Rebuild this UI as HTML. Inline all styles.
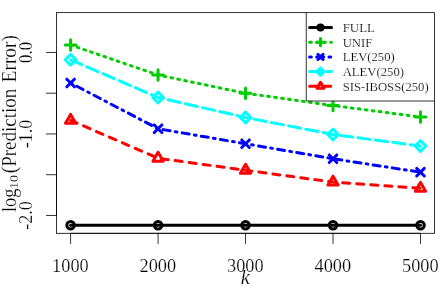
<!DOCTYPE html><html><head><meta charset="utf-8"><style>html,body{margin:0;padding:0;background:#fff}body{font-family:"Liberation Serif",serif}</style></head><body><svg width="443" height="288" viewBox="0 0 443 288" style="will-change:transform;display:block;font-family:'Liberation Serif',serif"><style>text{stroke:#fff;stroke-width:0.2px;paint-order:fill stroke}</style><rect width="443" height="288" fill="#fff"/><path d="M70.60 225.20L158.07 225.20L245.55 225.20L333.02 225.20L420.50 225.20" stroke="#000000" stroke-width="3.0" fill="none" stroke-linecap="round" stroke-linejoin="round"/><circle cx="70.6" cy="225.2" r="3.8" stroke="#000000" stroke-width="3.0" fill="none" stroke-linecap="round" stroke-linejoin="round"/><circle cx="158.07" cy="225.2" r="3.8" stroke="#000000" stroke-width="3.0" fill="none" stroke-linecap="round" stroke-linejoin="round"/><circle cx="245.55" cy="225.2" r="3.8" stroke="#000000" stroke-width="3.0" fill="none" stroke-linecap="round" stroke-linejoin="round"/><circle cx="333.02" cy="225.2" r="3.8" stroke="#000000" stroke-width="3.0" fill="none" stroke-linecap="round" stroke-linejoin="round"/><circle cx="420.5" cy="225.2" r="3.8" stroke="#000000" stroke-width="3.0" fill="none" stroke-linecap="round" stroke-linejoin="round"/><path d="M70.60 45.00L158.07 75.00L245.55 93.25L333.02 105.50L420.50 117.00" stroke="#00CD00" stroke-width="3.0" fill="none" stroke-linecap="round" stroke-linejoin="round" stroke-dasharray="1.76 5.28"/><path d="M65.23 45H75.97M70.6 39.63V50.37" stroke="#00CD00" stroke-width="3.0" fill="none" stroke-linecap="round" stroke-linejoin="round"/><path d="M152.70 75H163.44M158.07 69.63V80.37" stroke="#00CD00" stroke-width="3.0" fill="none" stroke-linecap="round" stroke-linejoin="round"/><path d="M240.18 93.25H250.92M245.55 87.88V98.62" stroke="#00CD00" stroke-width="3.0" fill="none" stroke-linecap="round" stroke-linejoin="round"/><path d="M327.65 105.5H338.39M333.02 100.13V110.87" stroke="#00CD00" stroke-width="3.0" fill="none" stroke-linecap="round" stroke-linejoin="round"/><path d="M415.13 117H425.87M420.5 111.63V122.37" stroke="#00CD00" stroke-width="3.0" fill="none" stroke-linecap="round" stroke-linejoin="round"/><path d="M70.60 83.00L158.07 128.75L245.55 143.75L333.02 158.75L420.50 172.20" stroke="#0000FF" stroke-width="3.0" fill="none" stroke-linecap="round" stroke-linejoin="round" stroke-dasharray="1.76 5.28 7.04 5.28"/><path d="M66.80 79.20L74.40 86.80M66.80 86.80L74.40 79.20" stroke="#0000FF" stroke-width="3.0" fill="none" stroke-linecap="round" stroke-linejoin="round"/><path d="M154.27 124.95L161.87 132.55M154.27 132.55L161.87 124.95" stroke="#0000FF" stroke-width="3.0" fill="none" stroke-linecap="round" stroke-linejoin="round"/><path d="M241.75 139.95L249.35 147.55M241.75 147.55L249.35 139.95" stroke="#0000FF" stroke-width="3.0" fill="none" stroke-linecap="round" stroke-linejoin="round"/><path d="M329.22 154.95L336.82 162.55M329.22 162.55L336.82 154.95" stroke="#0000FF" stroke-width="3.0" fill="none" stroke-linecap="round" stroke-linejoin="round"/><path d="M416.70 168.40L424.30 176.00M416.70 176.00L424.30 168.40" stroke="#0000FF" stroke-width="3.0" fill="none" stroke-linecap="round" stroke-linejoin="round"/><path d="M70.60 59.80L158.07 97.50L245.55 117.50L333.02 134.50L420.50 146.00" stroke="#00FFFF" stroke-width="3.0" fill="none" stroke-linecap="round" stroke-linejoin="round" stroke-dasharray="12.32 5.28"/><path d="M65.23 59.8L70.6 54.43L75.97 59.8L70.6 65.17Z" stroke="#00FFFF" stroke-width="3.0" fill="none" stroke-linecap="round" stroke-linejoin="round"/><path d="M152.70 97.5L158.07 92.13L163.44 97.5L158.07 102.87Z" stroke="#00FFFF" stroke-width="3.0" fill="none" stroke-linecap="round" stroke-linejoin="round"/><path d="M240.18 117.5L245.55 112.13L250.92 117.5L245.55 122.87Z" stroke="#00FFFF" stroke-width="3.0" fill="none" stroke-linecap="round" stroke-linejoin="round"/><path d="M327.65 134.5L333.02 129.13L338.39 134.5L333.02 139.87Z" stroke="#00FFFF" stroke-width="3.0" fill="none" stroke-linecap="round" stroke-linejoin="round"/><path d="M415.13 146L420.5 140.63L425.87 146L420.5 151.37Z" stroke="#00FFFF" stroke-width="3.0" fill="none" stroke-linecap="round" stroke-linejoin="round"/><path d="M70.60 120.30L158.07 158.25L245.55 170.25L333.02 182.10L420.50 188.35" stroke="#FF0000" stroke-width="3.0" fill="none" stroke-linecap="round" stroke-linejoin="round" stroke-dasharray="7.04 7.04"/><path d="M70.6 114.39L75.72 123.25L65.48 123.25Z" stroke="#FF0000" stroke-width="3.0" fill="none" stroke-linecap="round" stroke-linejoin="round"/><path d="M158.07 152.34L163.19 161.20L152.95 161.20Z" stroke="#FF0000" stroke-width="3.0" fill="none" stroke-linecap="round" stroke-linejoin="round"/><path d="M245.55 164.34L250.67 173.20L240.43 173.20Z" stroke="#FF0000" stroke-width="3.0" fill="none" stroke-linecap="round" stroke-linejoin="round"/><path d="M333.02 176.19L338.14 185.05L327.90 185.05Z" stroke="#FF0000" stroke-width="3.0" fill="none" stroke-linecap="round" stroke-linejoin="round"/><path d="M420.5 182.44L425.62 191.30L415.38 191.30Z" stroke="#FF0000" stroke-width="3.0" fill="none" stroke-linecap="round" stroke-linejoin="round"/><rect x="306.25" y="12.65" width="128.25" height="88.35" fill="#fff"/><path d="M306.25 12.65V101.0H434.5" stroke="#000" stroke-width="0.8" fill="none"/><rect x="56.5" y="12.65" width="378.0" height="220.65" stroke="#000" stroke-width="0.8" fill="none"/><path d="M70.6 233.3V243.9" stroke="#000" stroke-width="0.8" fill="none"/><path d="M158.07 233.3V243.9" stroke="#000" stroke-width="0.8" fill="none"/><path d="M245.55 233.3V243.9" stroke="#000" stroke-width="0.8" fill="none"/><path d="M333.02 233.3V243.9" stroke="#000" stroke-width="0.8" fill="none"/><path d="M420.5 233.3V243.9" stroke="#000" stroke-width="0.8" fill="none"/><path d="M56.5 52.46H46.0" stroke="#000" stroke-width="0.8" fill="none"/><path d="M56.5 93.21H46.0" stroke="#000" stroke-width="0.8" fill="none"/><path d="M56.5 133.96H46.0" stroke="#000" stroke-width="0.8" fill="none"/><path d="M56.5 174.71H46.0" stroke="#000" stroke-width="0.8" fill="none"/><path d="M56.5 215.46H46.0" stroke="#000" stroke-width="0.8" fill="none"/><path d="M70.6 233.3H420.5M56.5 52.46V215.46" stroke="#000" stroke-width="0.8" fill="none"/><text x="70.39999999999999" y="271.8" font-size="19.5" text-anchor="middle" textLength="36.6" lengthAdjust="spacingAndGlyphs">1000</text><text x="157.87" y="271.8" font-size="19.5" text-anchor="middle" textLength="36.6" lengthAdjust="spacingAndGlyphs">2000</text><text x="245.35000000000002" y="271.8" font-size="19.5" text-anchor="middle" textLength="36.6" lengthAdjust="spacingAndGlyphs">3000</text><text x="332.82" y="271.8" font-size="19.5" text-anchor="middle" textLength="36.6" lengthAdjust="spacingAndGlyphs">4000</text><text x="420.3" y="271.8" font-size="19.5" text-anchor="middle" textLength="36.6" lengthAdjust="spacingAndGlyphs">5000</text><text x="245.3" y="284" font-size="20" font-style="italic" text-anchor="middle" textLength="9" lengthAdjust="spacingAndGlyphs">k</text><text transform="translate(32.3 52.46) rotate(-90)" font-size="19" text-anchor="middle" textLength="21" lengthAdjust="spacingAndGlyphs">0.0</text><text transform="translate(32.3 133.96) rotate(-90)" font-size="19" text-anchor="middle" textLength="28.6" lengthAdjust="spacingAndGlyphs">-1.0</text><text transform="translate(32.3 215.46) rotate(-90)" font-size="19" text-anchor="middle" textLength="28.6" lengthAdjust="spacingAndGlyphs">-2.0</text><text transform="translate(15.6 212.1) rotate(-90)" font-size="20" textLength="23.599999999999994" lengthAdjust="spacingAndGlyphs">log</text><text transform="translate(18.0 189.0) rotate(-90)" font-size="12.5" textLength="14.099999999999994" lengthAdjust="spacingAndGlyphs">10</text><text transform="translate(15.6 173.2) rotate(-90)" font-size="20" textLength="84.49999999999999" lengthAdjust="spacingAndGlyphs">(Prediction</text><text transform="translate(15.6 82.4) rotate(-90)" font-size="20" textLength="47.400000000000006" lengthAdjust="spacingAndGlyphs">Error)</text><path d="M309.60 27.50L331.50 27.50" stroke="#000000" stroke-width="3.0" fill="none" stroke-linecap="round" stroke-linejoin="round"/><circle cx="320.5" cy="27.5" r="2.584" stroke="#000000" stroke-width="3.0" fill="none" stroke-linecap="round" stroke-linejoin="round"/><text x="342.7" y="32.0" font-size="13.5" textLength="32.3" lengthAdjust="spacingAndGlyphs">FULL</text><path d="M309.60 42.20L331.50 42.20" stroke="#00CD00" stroke-width="3.0" fill="none" stroke-linecap="round" stroke-linejoin="round" stroke-dasharray="1.76 5.28"/><path d="M316.85 42.2H324.15M320.5 38.55V45.85" stroke="#00CD00" stroke-width="3.0" fill="none" stroke-linecap="round" stroke-linejoin="round"/><text x="342.7" y="46.7" font-size="13.5" textLength="29.5" lengthAdjust="spacingAndGlyphs">UNIF</text><path d="M309.60 56.90L331.50 56.90" stroke="#0000FF" stroke-width="3.0" fill="none" stroke-linecap="round" stroke-linejoin="round" stroke-dasharray="1.76 5.28 7.04 5.28"/><path d="M317.92 54.32L323.08 59.48M317.92 59.48L323.08 54.32" stroke="#0000FF" stroke-width="3.0" fill="none" stroke-linecap="round" stroke-linejoin="round"/><text x="342.7" y="61.4" font-size="13.5" textLength="52" lengthAdjust="spacingAndGlyphs">LEV(250)</text><path d="M309.60 71.60L331.50 71.60" stroke="#00FFFF" stroke-width="3.0" fill="none" stroke-linecap="round" stroke-linejoin="round" stroke-dasharray="12.32 5.28"/><path d="M316.85 71.6L320.5 67.95L324.15 71.6L320.5 75.25Z" stroke="#00FFFF" stroke-width="3.0" fill="none" stroke-linecap="round" stroke-linejoin="round"/><text x="342.7" y="76.1" font-size="13.5" textLength="61.3" lengthAdjust="spacingAndGlyphs">ALEV(250)</text><path d="M309.60 86.30L331.50 86.30" stroke="#FF0000" stroke-width="3.0" fill="none" stroke-linecap="round" stroke-linejoin="round" stroke-dasharray="7.04 7.04"/><path d="M320.5 82.28L323.98 88.31L317.02 88.31Z" stroke="#FF0000" stroke-width="3.0" fill="none" stroke-linecap="round" stroke-linejoin="round"/><text x="342.7" y="90.8" font-size="13.5" textLength="86" lengthAdjust="spacingAndGlyphs">SIS-IBOSS(250)</text></svg></body></html>
